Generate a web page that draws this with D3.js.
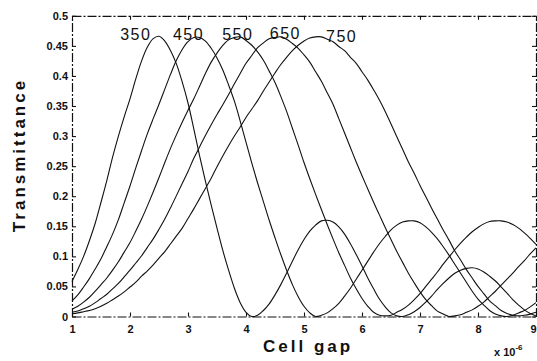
<!DOCTYPE html>
<html>
<head>
<meta charset="utf-8">
<script src="https://cdn.jsdelivr.net/npm/d3@7"></script>
<style>
  html, body { margin: 0; padding: 0; background: #fff; }
  svg { display: block; }
  text { font-family: Arial, "Liberation Sans", sans-serif; fill: #111; }
</style>
</head>
<body>
<svg id="chart" width="537" height="361"></svg>
<script>
// ---------- data ----------
const wavelengths = ["350", "450", "550", "650", "750"];
const xTickValues = [1, 2, 3, 4, 5, 6, 7, 8, 9];
const xTickLabels = ["1", "2", "3", "4", "5", "6", "7", "8", "9"];
const yTickValues = [0, 0.05, 0.1, 0.15, 0.2, 0.25, 0.3, 0.35, 0.4, 0.45, 0.5];
const yTickLabels = ["0", "0.05", "0.1", "0.15", "0.2", "0.25", "0.3", "0.35", "0.4", "0.45", "0.5"];

// cell gap (x 10^-6), sampled every 0.1
const cellGap = [1.0,1.1,1.2,1.3,1.4,1.5,1.6,1.7,1.8,1.9,
  2.0,2.1,2.2,2.3,2.4,2.5,2.6,2.7,2.8,2.9,
  3.0,3.1,3.2,3.3,3.4,3.5,3.6,3.7,3.8,3.9,
  4.0,4.1,4.2,4.3,4.4,4.5,4.6,4.7,4.8,4.9,
  5.0,5.1,5.2,5.3,5.4,5.5,5.6,5.7,5.8,5.9,
  6.0,6.1,6.2,6.3,6.4,6.5,6.6,6.7,6.8,6.9,
  7.0,7.1,7.2,7.3,7.4,7.5,7.6,7.7,7.8,7.9,
  8.0,8.1,8.2,8.3,8.4,8.5,8.6,8.7,8.8,8.9,
  9.0];

const t350 = [0.058,0.078,0.100,0.126,0.155,0.190,0.226,0.265,0.300,0.332,
  0.362,0.395,0.425,0.448,0.462,0.466,0.458,0.442,0.420,0.390,
  0.355,0.312,0.267,0.225,0.185,0.147,0.110,0.077,0.047,0.023,
  0.007,0.000,0.002,0.010,0.021,0.036,0.053,0.072,0.092,0.111,
  0.128,0.142,0.152,0.159,0.160,0.157,0.149,0.137,0.121,0.103,
  0.084,0.064,0.046,0.029,0.016,0.006,0.001,0.000,0.003,0.008,
  0.015,0.024,0.034,0.045,0.055,0.064,0.072,0.077,0.080,0.081,
  0.079,0.074,0.067,0.059,0.049,0.039,0.028,0.019,0.011,0.005,
  0.001];

const t450 = [0.026,0.036,0.049,0.063,0.079,0.096,0.116,0.137,0.161,0.189,
  0.217,0.247,0.276,0.304,0.329,0.353,0.378,0.403,0.426,0.444,
  0.457,0.464,0.464,0.458,0.446,0.430,0.410,0.385,0.358,0.325,
  0.290,0.255,0.222,0.191,0.160,0.131,0.103,0.077,0.053,0.033,
  0.017,0.006,0.000,0.002,0.006,0.013,0.022,0.034,0.047,0.062,
  0.077,0.092,0.107,0.121,0.133,0.144,0.152,0.157,0.159,0.159,
  0.156,0.149,0.140,0.129,0.116,0.102,0.087,0.072,0.057,0.042,
  0.029,0.019,0.010,0.004,0.001,0.000,0.002,0.006,0.010,0.016,
  0.023];

const t550 = [0.012,0.017,0.024,0.032,0.042,0.053,0.064,0.077,0.091,0.107,
  0.123,0.142,0.162,0.184,0.207,0.231,0.256,0.280,0.302,0.323,
  0.343,0.362,0.383,0.404,0.423,0.438,0.451,0.460,0.464,0.465,
  0.459,0.451,0.440,0.426,0.408,0.389,0.366,0.341,0.313,0.285,
  0.256,0.229,0.203,0.178,0.153,0.129,0.106,0.085,0.064,0.046,
  0.030,0.017,0.007,0.002,0.001,0.002,0.007,0.012,0.019,0.028,
  0.038,0.050,0.062,0.074,0.087,0.099,0.111,0.122,0.132,0.141,
  0.148,0.154,0.158,0.159,0.159,0.157,0.153,0.147,0.139,0.130,
  0.120];

const t650 = [0.007,0.009,0.013,0.017,0.023,0.030,0.037,0.046,0.055,0.066,
  0.077,0.089,0.101,0.115,0.129,0.145,0.162,0.181,0.201,0.221,
  0.241,0.263,0.282,0.301,0.319,0.336,0.352,0.369,0.387,0.404,
  0.421,0.434,0.447,0.455,0.462,0.464,0.465,0.461,0.454,0.446,
  0.435,0.423,0.407,0.391,0.372,0.353,0.329,0.305,0.281,0.257,
  0.234,0.212,0.190,0.169,0.148,0.128,0.108,0.090,0.072,0.056,
  0.041,0.028,0.018,0.009,0.004,0.000,0.001,0.003,0.007,0.011,
  0.017,0.024,0.033,0.042,0.052,0.062,0.072,0.083,0.093,0.104,
  0.114];

const t750 = [0.0045,0.006,0.008,0.010,0.013,0.017,0.022,0.028,0.034,0.041,
  0.049,0.057,0.067,0.076,0.086,0.097,0.108,0.121,0.134,0.147,
  0.163,0.179,0.196,0.213,0.230,0.249,0.267,0.284,0.300,0.315,
  0.331,0.345,0.359,0.375,0.390,0.405,0.419,0.431,0.442,0.451,
  0.458,0.463,0.465,0.465,0.461,0.457,0.449,0.442,0.431,0.421,
  0.407,0.393,0.377,0.360,0.341,0.320,0.299,0.278,0.257,0.238,
  0.218,0.199,0.180,0.162,0.144,0.127,0.109,0.094,0.078,0.064,
  0.050,0.038,0.026,0.018,0.010,0.005,0.002,0.001,0.002,0.004,
  0.007];

const seriesValues = [t350, t450, t550, t650, t750];

// ---------- layout ----------
const svg = d3.select("#chart");
const x = d3.scaleLinear().domain([1, 9]).range([72, 536]);
const y = d3.scaleLinear().domain([0, 0.5]).range([316.5, 15.8]);

const ink = "#111";
const boxDash = "9,2,2,2";

// curves
const line = d3.line()
  .x(d => x(d[0]))
  .y(d => y(d[1]))
  .curve(d3.curveCatmullRom.alpha(0.5));

const gCurves = svg.append("g");
seriesValues.forEach((vals) => {
  const pts = cellGap.map((g, i) => [g, vals[i]]);
  gCurves.append("path")
    .attr("d", line(pts))
    .attr("fill", "none")
    .attr("stroke", ink)
    .attr("stroke-width", 1.1);
});

// axes
function styleAxis(g, showText) {
  g.select(".domain").attr("stroke", ink).attr("stroke-width", 1.2).attr("stroke-dasharray", boxDash);
  g.selectAll(".tick line").attr("stroke", ink).attr("stroke-width", 1.1);
  g.selectAll(".tick text")
    .style("font-family", "Arial, 'Liberation Sans', sans-serif")
    .style("font-size", "11px")
    .style("font-weight", "bold")
    .attr("fill", ink)
    .style("display", showText ? null : "none");
}

const axLeft = svg.append("g").attr("transform", `translate(${x(1)},0)`)
  .call(d3.axisLeft(y).tickValues(yTickValues).tickSize(-4).tickSizeOuter(0).tickPadding(4)
    .tickFormat((d, i) => yTickLabels[i]));
styleAxis(axLeft, true);

const axRight = svg.append("g").attr("transform", `translate(${x(9)},0)`)
  .call(d3.axisRight(y).tickValues(yTickValues).tickSize(-4).tickSizeOuter(0).tickFormat(""));
styleAxis(axRight, false);

const axBottom = svg.append("g").attr("transform", `translate(0,${y(0)})`)
  .call(d3.axisBottom(x).tickValues(xTickValues).tickSize(-4).tickSizeOuter(0).tickPadding(9)
    .tickFormat((d, i) => xTickLabels[i]));
styleAxis(axBottom, true);
// keep the last tick label inside the canvas
axBottom.selectAll(".tick text").filter(d => d === 9).attr("text-anchor", "end").attr("dx", 0);

const axTop = svg.append("g").attr("transform", `translate(0,${y(0.5)})`)
  .call(d3.axisTop(x).tickValues(xTickValues).tickSize(-4).tickSizeOuter(0).tickFormat(""));
styleAxis(axTop, false);

// axis titles
svg.append("text")
  .attr("transform", `translate(25,155) rotate(-90)`)
  .attr("text-anchor", "middle")
  .style("font-size", "17px")
  .style("font-weight", "bold")
  .style("letter-spacing", "3px")
  .text("Transmittance");

svg.append("text")
  .attr("x", 263)
  .attr("y", 352)
  .style("font-size", "17px")
  .style("font-weight", "bold")
  .style("letter-spacing", "3px")
  .text("Cell gap");

// exponent note
const expo = svg.append("text")
  .attr("x", 494)
  .attr("y", 356)
  .style("font-size", "11px")
  .style("font-weight", "bold");
expo.append("tspan").text("x 10");
expo.append("tspan").attr("dy", -6).style("font-size", "8px").text("-6");

// wavelength labels (placed in chart units)
const labelSpots = [[1.83, 0.46], [2.74, 0.46], [3.59, 0.46], [4.41, 0.4606], [5.38, 0.457]];
svg.append("g").selectAll("text")
  .data(wavelengths)
  .join("text")
  .attr("x", (d, i) => x(labelSpots[i][0]))
  .attr("y", (d, i) => y(labelSpots[i][1]))
  .style("font-size", "16px")
  .style("letter-spacing", "1.5px")
  .text(d => d);
</script>
</body>
</html>
